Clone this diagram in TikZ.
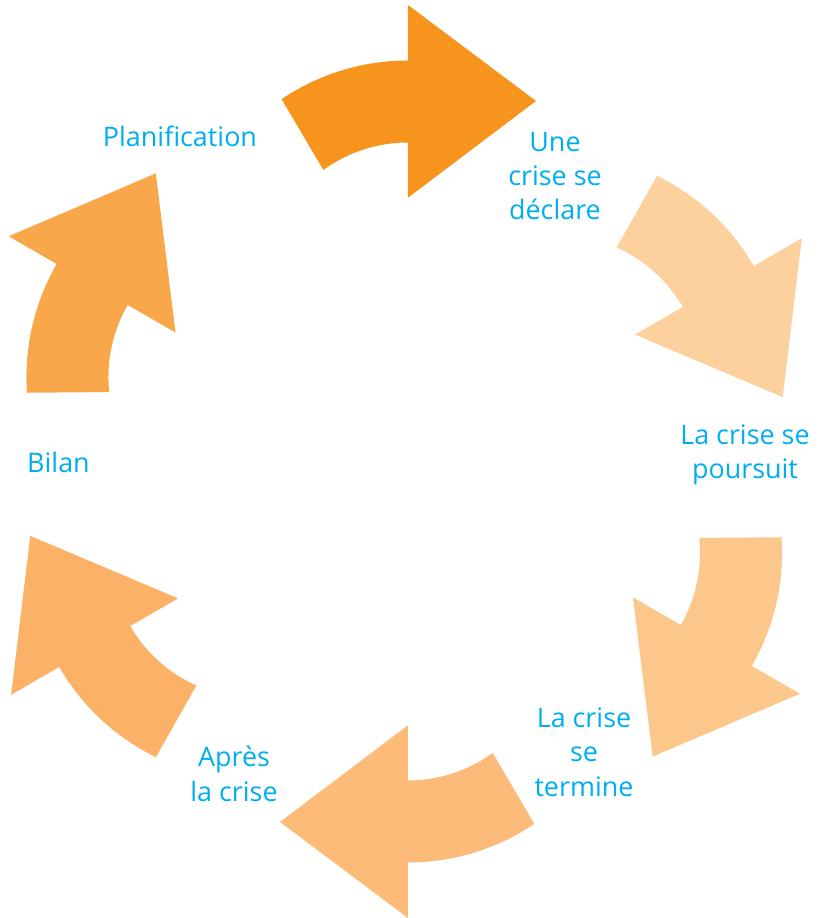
\documentclass[tikz,border=0pt]{standalone}
\usepackage{fontspec}
\setmainfont{Open Sans}
\definecolor{txtblue}{HTML}{00AEEF}
\definecolor{arrA}{HTML}{F7941E}
\definecolor{arrB}{HTML}{FDD19D}
\definecolor{arrC}{HTML}{FCC78A}
\definecolor{arrD}{HTML}{FCBB78}
\definecolor{arrE}{HTML}{FBB166}
\definecolor{arrF}{HTML}{F9A74B}
\newcommand{\cyclearrow}[3]{%
  \begin{scope}[shift={#3}, rotate=#1]
    \fill[#2] ([shift={(124:226)}]0,175) arc[start angle=124, end angle=90, radius=226]
      -- (0,456.5) -- (128,360.5) -- (0,263.8) -- (0,319)
      arc[start angle=90, end angle=126, radius=144] -- cycle;
  \end{scope}}
\begin{document}
\begin{tikzpicture}[x=1bp,y=1bp,
  lbl/.style={text=txtblue, align=center, inner sep=0pt,
    font=\fontsize{27}{34.5}\selectfont}]
\useasboundingbox (-408,-456.5) rectangle (414,461.5);
\cyclearrow{0}{arrA}{(0,0)}
\cyclearrow{-60}{arrB}{(-1.5,-5)}
\cyclearrow{-120}{arrC}{(-3.5,-4)}
\cyclearrow{-180}{arrD}{(0,0)}
\cyclearrow{-240}{arrE}{(-1.5,-5)}
\cyclearrow{-300}{arrF}{(-4,-3)}
\node[lbl] (plan) at (-228,325.5) {Planification};
\node[lbl] (decl) at (147,285.5) {Une\\crise se\\déclare};
\node[lbl] (pours) at (337,6.5) {La crise se\\poursuit};
\node[lbl] (term) at (176,-290.5) {La crise\\se\\termine};
\node[lbl] (apres) at (-174,-312.5) {Après\\la crise};
\node[lbl] (bilan) at (-349.5,-0.5) {Bilan};
\end{tikzpicture}
\end{document}
